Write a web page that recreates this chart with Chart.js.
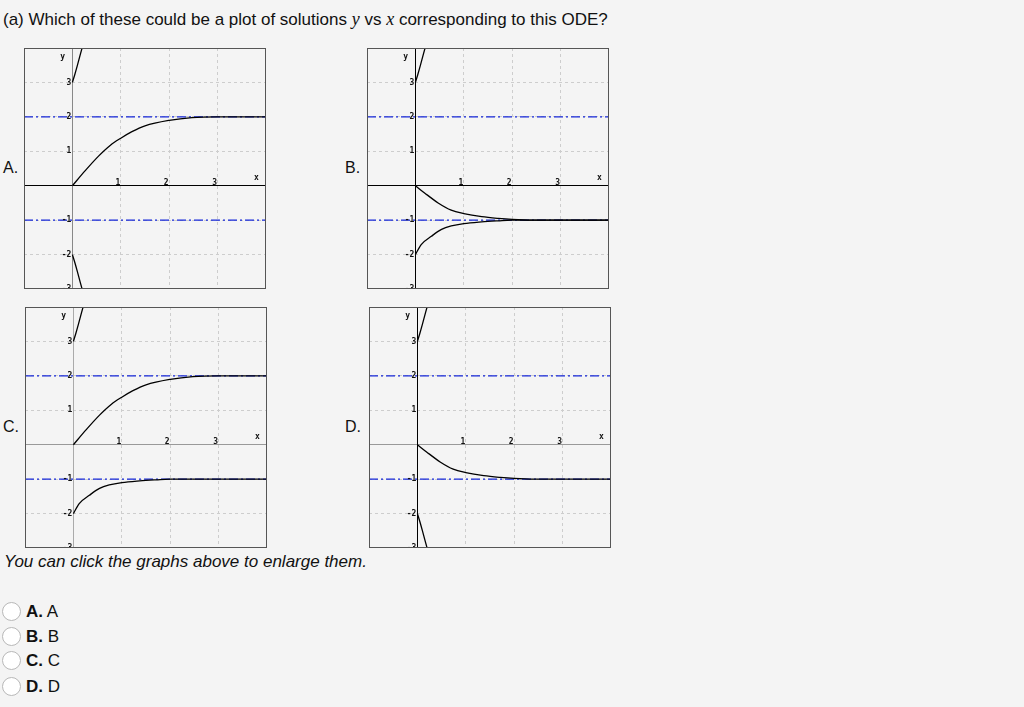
<!DOCTYPE html>
<html>
<head>
<meta charset="utf-8">
<script src="https://cdn.jsdelivr.net/npm/chart.js@4.4.1/dist/chart.umd.min.js"></script>
<style>
  body { margin: 0; background: #f4f4f4; font-family: "Liberation Sans", Arial, sans-serif; color: #111; }
  .abs { position: absolute; }
  #title { left: 3px; top: 9px; font-size: 17px; white-space: nowrap; }
  #title i { font-family: "Liberation Serif", "Times New Roman", serif; font-size: 18px; }
  .tag { font-size: 16px; }
  #hint { left: 4px; top: 552px; font-size: 17px; font-style: italic; white-space: nowrap; }
  .opt { left: 2px; font-size: 17px; height: 20px; line-height: 20px; white-space: nowrap; }
  .opt span.r { display: inline-block; width: 19px; height: 19px; border: 1px solid #b8b8b8; border-radius: 50%;
                background: #fff; vertical-align: middle; margin-right: 5px; box-sizing: border-box; position: relative; top: -1px; }
  canvas { position: absolute; }
</style>
</head>
<body>
<div id="title" class="abs">(a) Which of these could be a plot of solutions <i>y</i> vs <i>x</i> corresponding to this ODE?</div>

<div class="abs tag" style="left:3px; top:159px;">A.</div>
<div class="abs tag" style="left:345px; top:159px;">B.</div>
<div class="abs tag" style="left:3px; top:418px;">C.</div>
<div class="abs tag" style="left:345px; top:418px;">D.</div>

<canvas id="plotA" width="242" height="241" style="left:24px; top:48px;"></canvas>
<canvas id="plotB" width="242" height="241" style="left:367px; top:48px;"></canvas>
<canvas id="plotC" width="242" height="241" style="left:25px; top:307px;"></canvas>
<canvas id="plotD" width="242" height="241" style="left:369px; top:307px;"></canvas>

<div id="hint" class="abs">You can click the graphs above to enlarge them.</div>

<div class="abs opt" style="top:602px;"><span class="r"></span><b>A.</b> A</div>
<div class="abs opt" style="top:627px;"><span class="r"></span><b>B.</b> B</div>
<div class="abs opt" style="top:651px;"><span class="r"></span><b>C.</b> C</div>
<div class="abs opt" style="top:677px;"><span class="r"></span><b>D.</b> D</div>

<script>
// axis ticks shown inside every plot
const xTicks = [1, 2, 3];
const yTicks = [3, 2, 1, -1, -2, -3];
const equilibria = [2, -1];

// solution leaving y=3 upward
const blowUpX = [0, 0.05, 0.1, 0.15, 0.2, 0.23];
const blowUpY = [3, 3.23, 3.48, 3.74, 4.0, 4.15];
// solution leaving y=-2 downward
const blowDownX = [0, 0.05, 0.1, 0.15, 0.2, 0.23];
const blowDownY = [-2, -2.23, -2.48, -2.74, -3.0, -3.15];
// solution from 0 rising to 2
const riseX = [0, 0.26, 0.54, 0.78, 1.0, 1.23, 1.5, 2.0, 2.47, 3.0, 4.0];
const riseY = [0, 0.43, 0.86, 1.17, 1.38, 1.57, 1.74, 1.9, 1.98, 2.0, 2.0];
// solution from 0 falling to -1
const fallX = [0, 0.19, 0.47, 0.74, 1.0, 1.37, 1.71, 2.0, 2.4, 4.0];
const fallY = [0, -0.21, -0.5, -0.71, -0.81, -0.9, -0.95, -0.98, -1.0, -1.0];
// solution from -2 rising to -1
const climbX = [0, 0.12, 0.33, 0.54, 0.74, 1.0, 1.37, 1.71, 2.0, 4.0];
const climbY = [-2, -1.71, -1.47, -1.27, -1.17, -1.1, -1.05, -1.02, -1.0, -1.0];

const toPoints = (xs, ys) => xs.map((x, i) => ({ x, y: ys[i] }));

const curves = {
  blowUp: toPoints(blowUpX, blowUpY),
  blowDown: toPoints(blowDownX, blowDownY),
  rise: toPoints(riseX, riseY),
  fall: toPoints(fallX, fallY),
  climb: toPoints(climbX, climbY),
};

// Labels, y/x names and the frame
const plotDecor = {
  id: 'plotDecor',
  afterDatasetsDraw(chart) {
    const { ctx, scales: { x, y }, chartArea } = chart;
    const x0 = x.getPixelForValue(0);
    const y0 = y.getPixelForValue(0);
    ctx.save();
    ctx.fillStyle = '#111';
    ctx.font = 'bold 8px "DejaVu Sans Mono", monospace';
    ctx.textAlign = 'right';
    ctx.textBaseline = 'middle';
    yTicks.forEach(v => ctx.fillText(String(v), x0 - 1, y.getPixelForValue(v)));
    ctx.textAlign = 'center';
    ctx.textBaseline = 'alphabetic';
    xTicks.forEach(v => ctx.fillText(String(v), x.getPixelForValue(v) - 3, y0 - 1));
    ctx.textBaseline = 'middle';
    ctx.fillText('y', x.getPixelForValue(-0.2), y.getPixelForValue(3.74));
    ctx.fillText('x', x.getPixelForValue(3.8), y.getPixelForValue(0.22));
    ctx.strokeStyle = '#555';
    ctx.lineWidth = 1;
    ctx.strokeRect(chartArea.left + 0.5, chartArea.top + 0.5, chartArea.width - 1, chartArea.height - 1);
    ctx.restore();
  }
};

function makePlot(id, names, yAxisColor, xAxisColor) {
  const datasets = [];
  names.forEach(n => datasets.push({
    data: curves[n],
    showLine: true,
    borderColor: '#000',
    borderWidth: 1.3,
    pointRadius: 0,
    cubicInterpolationMode: 'monotone',
    order: 1,
  }));
  equilibria.forEach(v => datasets.push({
    data: [{ x: -1, y: v }, { x: 4, y: v }],
    showLine: true,
    borderColor: '#1426d8',
    borderWidth: 1.2,
    borderDash: [9, 3, 2, 3],
    pointRadius: 0,
    order: 2,
  }));

  new Chart(document.getElementById(id), {
    type: 'scatter',
    data: { datasets },
    options: {
      responsive: false,
      animation: false,
      devicePixelRatio: 1,
      layout: { padding: 0 },
      events: [],
      plugins: { legend: { display: false }, tooltip: { enabled: false } },
      scales: {
        x: {
          type: 'linear', min: -1, max: 4,
          position: { y: 0 },
          ticks: { display: false, stepSize: 1 },
          grid: {
            drawTicks: false,
            color: c => (c.tick && xTicks.includes(c.tick.value)) ? '#cdcdcd' : 'rgba(0,0,0,0)',
          },
          border: { color: xAxisColor, width: 1, dash: [3, 3] },
        },
        y: {
          type: 'linear', min: -3, max: 4,
          position: { x: 0 },
          ticks: { display: false, stepSize: 1 },
          grid: {
            drawTicks: false,
            color: c => (c.tick && [3, 2, 1, -1, -2].includes(c.tick.value)) ? '#cdcdcd' : 'rgba(0,0,0,0)',
          },
          border: { color: yAxisColor, width: 1, dash: [3, 3] },
        }
      }
    },
    plugins: [plotDecor]
  });
}

makePlot('plotA', ['blowUp', 'rise', 'blowDown'], '#888', '#000');
makePlot('plotB', ['blowUp', 'fall', 'climb'], '#000', '#000');
makePlot('plotC', ['blowUp', 'rise', 'climb'], '#aaa', '#999');
makePlot('plotD', ['blowUp', 'fall', 'blowDown'], '#000', '#999');
</script>
</body>
</html>
